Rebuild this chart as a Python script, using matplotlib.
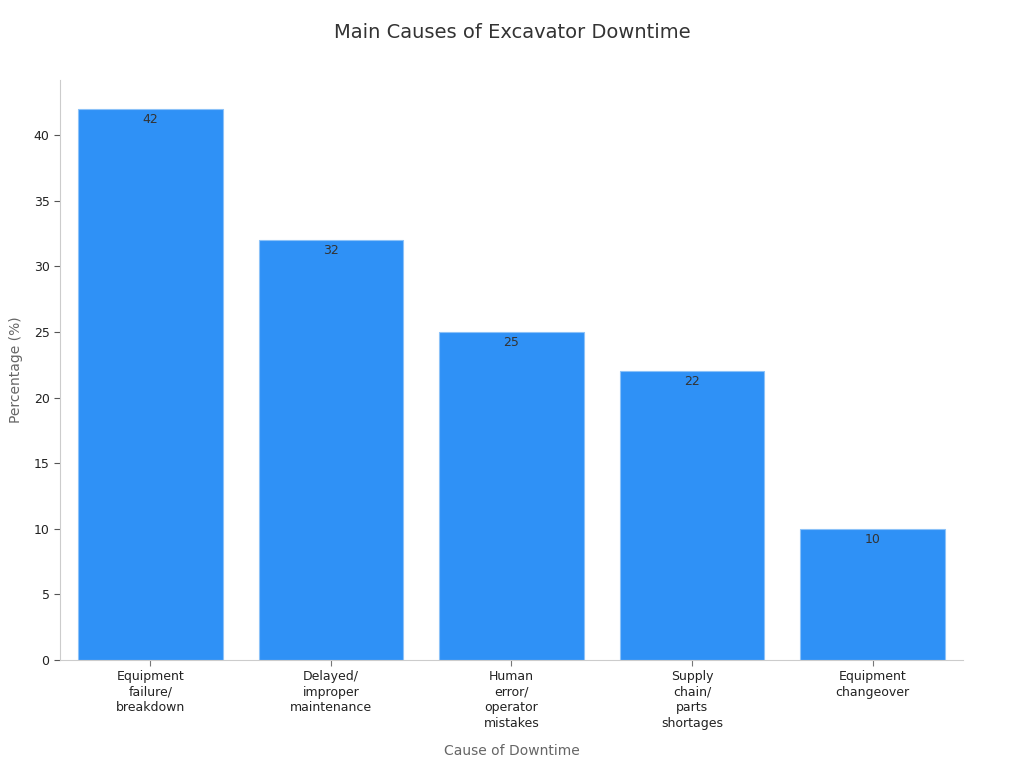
import matplotlib
matplotlib.use('Agg')
import matplotlib.pyplot as plt

# chart data
causes = ['Equipment\nfailure/\nbreakdown', 'Delayed/\nimproper\nmaintenance',
          'Human\nerror/\noperator\nmistakes', 'Supply\nchain/\nparts\nshortages',
          'Equipment\nchangeover']
percentages = [42, 32, 25, 22, 10]

fig = plt.figure(figsize=(10.24, 7.68), dpi=100)
ax = fig.add_axes([0.0586, 0.1406, 0.8818, 0.7554])

x = list(range(len(causes)))
bars = ax.bar(x, percentages, width=0.8, color='#2f91f6', edgecolor='#8cc2f8', linewidth=0.8)

# value labels just inside the top of each bar
for xi, v in zip(x, percentages):
    ax.text(xi, v - 0.3, str(v), ha='center', va='top', fontsize=9, color='#333333')

ax.set_xlim(-0.5, 4.5)
ax.set_ylim(0, 44.2)
ax.set_yticks([0, 5, 10, 15, 20, 25, 30, 35, 40])
ax.set_xticks(x)
ax.set_xticklabels(causes, fontsize=9, color='#222222', linespacing=1.25)
ax.tick_params(axis='y', labelsize=9, colors='#222222', length=4, color='#555555')
ax.tick_params(axis='x', length=4, color='#777777')

for s in ['top', 'right']:
    ax.spines[s].set_visible(False)
ax.spines['left'].set_color('#cccccc')
ax.spines['bottom'].set_color('#cccccc')

ax.set_xlabel('Cause of Downtime', fontsize=10, color='#666666', labelpad=10)
ax.set_ylabel('Percentage (%)', fontsize=10, color='#666666', labelpad=8)
fig.suptitle('Main Causes of Excavator Downtime', fontsize=14, color='#333333', y=0.97)

fig.savefig('out.png', dpi=100)
